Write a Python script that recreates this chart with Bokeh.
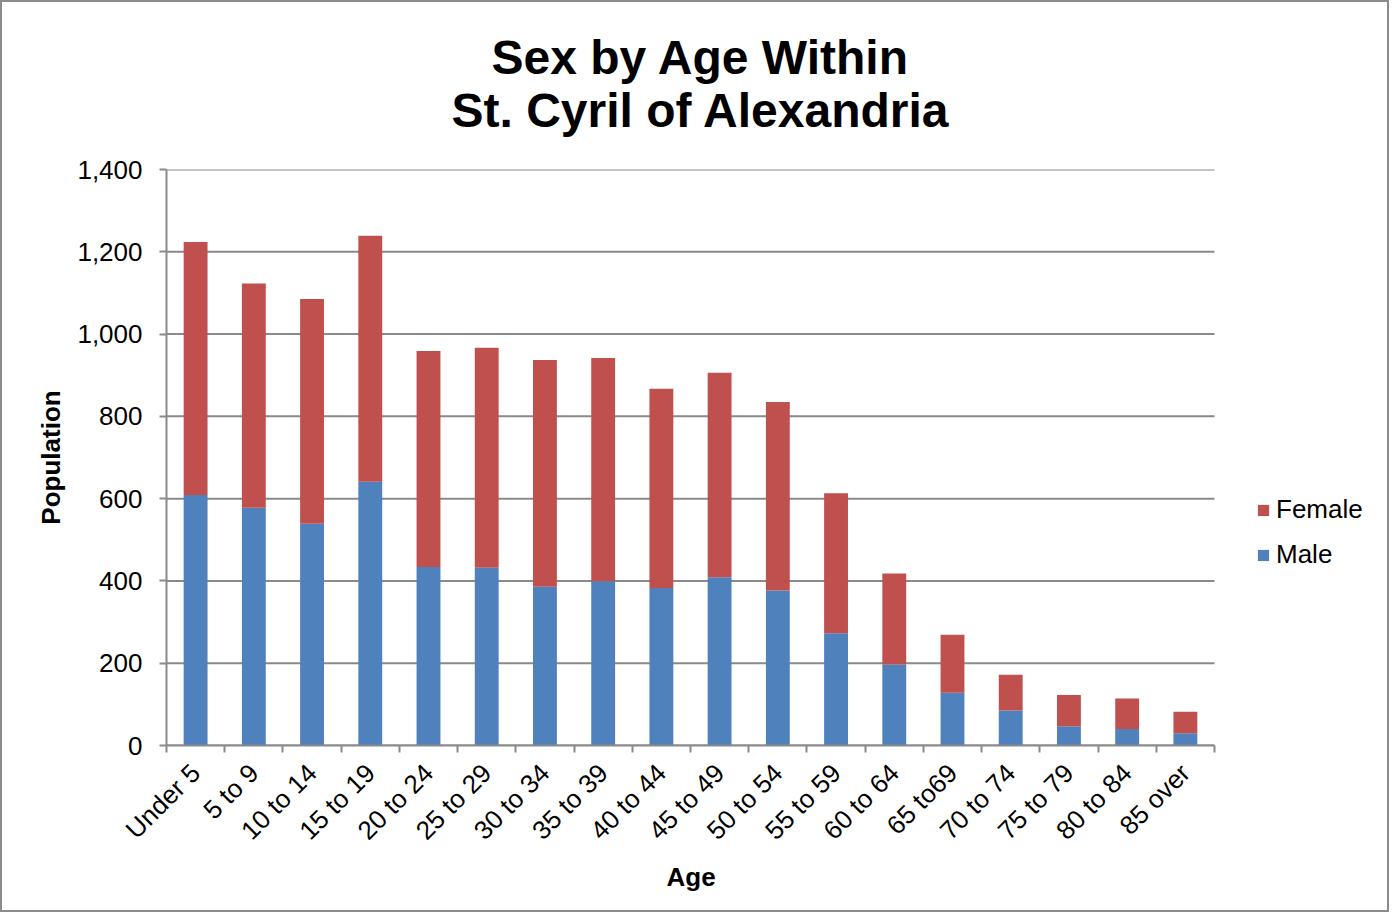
from bokeh.plotting import figure
from bokeh.models import (ColumnDataSource, FixedTicker, NumeralTickFormatter,
                          Legend, LegendItem, Range1d, Title)
from bokeh.embed import file_html
from bokeh.resources import INLINE
import math

categories = ["Under 5", "5 to 9", "10 to 14", "15 to 19", "20 to 24", "25 to 29",
              "30 to 34", "35 to 39", "40 to 44", "45 to 49", "50 to 54", "55 to 59",
              "60 to 64", "65 to69", "70 to 74", "75 to 79", "80 to 84", "85 over"]
male = [609, 578, 539, 641, 434, 432, 386, 399, 383, 409, 377, 273, 197, 128, 85, 47, 40, 30]
female = [615, 545, 546, 598, 525, 535, 551, 543, 484, 497, 458, 340, 221, 141, 87, 76, 74, 52]
y_ticks = [0, 200, 400, 600, 800, 1000, 1200, 1400]
title_lines = ["Sex by Age Within", "St. Cyril of Alexandria"]

MALE_C = "#4F81BD"
FEMALE_C = "#C0504D"
GRID_C = "#8a8a8a"
FONT = "Liberation Sans"

n = len(categories)
xs = [i + 0.5 for i in range(n)]
src = ColumnDataSource(dict(x=xs, male=male, female=female))
grid_src = ColumnDataSource(dict(x0=[0] * len(y_ticks), x1=[n] * len(y_ticks), y=y_ticks))

# layout: the frame runs past the last category so the legend can sit inside it
W, H = 1389, 912
ML, MR, MT, MB = 164, 4, 167, 169
frame_w = W - ML - MR
bars_w = 1048  # pixel width of the category area
x_end = n * frame_w / bars_w

p = figure(width=W, height=H, output_backend="svg", toolbar_location=None,
           x_range=Range1d(0, x_end), y_range=Range1d(0, 1400), title=None)
p.min_border_left = ML
p.min_border_right = MR
p.min_border_top = MT
p.min_border_bottom = MB
p.outline_line_color = None
p.background_fill_color = "white"
p.border_fill_color = "white"
p.styles = {"border": "2px solid #8c8c8c"}

# horizontal gridlines limited to the category area
p.segment(x0="x0", x1="x1", y0="y", y1="y", source=grid_src,
          line_color=GRID_C, line_width=2, level="underlay")

renderers = p.vbar_stack(["male", "female"], x="x", width=0.41, source=src,
                         color=[MALE_C, FEMALE_C], line_color=None)

# spacer between the frame and the title
p.add_layout(Title(text="\u00a0", text_font=FONT, text_font_size="1px",
                   standoff=30), "above")
# Two-line title; the shorter first line is nudged right so both lines look centred
title_text = "\u00a0\u00a0\u00a0" + title_lines[0] + "\n" + title_lines[1]
p.add_layout(Title(text=title_text, align="left", offset=285,
                   text_font=FONT, text_font_size="48px", text_font_style="bold",
                   text_color="black", text_line_height=1.0, standoff=0), "above")

# Y axis
ya = p.yaxis[0]
ya.ticker = FixedTicker(ticks=y_ticks)
ya.formatter = NumeralTickFormatter(format="0,0")
ya.major_label_text_font = FONT
ya.major_label_text_font_size = "26px"
ya.major_label_text_color = "black"
ya.axis_line_color = GRID_C
ya.axis_line_width = 2
ya.major_tick_line_color = GRID_C
ya.major_tick_line_width = 2
ya.major_tick_out = 7
ya.major_tick_in = 0
ya.minor_tick_line_color = None
ya.major_label_standoff = 17
ya.axis_label = "Population"
ya.axis_label_text_font = FONT
ya.axis_label_text_font_size = "26px"
ya.axis_label_text_font_style = "bold"
ya.axis_label_text_color = "black"
ya.axis_label_standoff = 8

# X axis
xa = p.xaxis[0]
xa.bounds = (0, n)
xa.ticker = FixedTicker(ticks=xs, minor_ticks=list(range(n + 1)))
xa.major_label_overrides = {x: c for x, c in zip(xs, categories)}
xa.major_label_orientation = math.pi / 4
xa.major_label_text_font = FONT
xa.major_label_text_font_size = "26px"
xa.major_label_text_color = "black"
xa.major_tick_line_color = None
xa.minor_tick_line_color = GRID_C
xa.minor_tick_line_width = 2
xa.minor_tick_out = 7
xa.minor_tick_in = 0
xa.axis_line_color = GRID_C
xa.axis_line_width = 2
xa.major_label_standoff = 16

# x-axis title, centred under the category area
p.add_layout(Title(text="Age", align="left", offset=500,
                   text_font=FONT, text_font_size="26px", text_font_style="bold",
                   text_color="black", standoff=0), "below")

p.xgrid.grid_line_color = None
p.ygrid.grid_line_color = None

legend = Legend(items=[LegendItem(label="Female", renderers=[renderers[1]]),
                       LegendItem(label="Male", renderers=[renderers[0]])],
                location=(1090, 175), orientation="vertical",
                label_text_font=FONT, label_text_font_size="26px",
                label_text_color="black", glyph_width=14, glyph_height=14,
                label_standoff=6, spacing=14, padding=0, margin=0,
                border_line_color=None, background_fill_alpha=0)
p.add_layout(legend, "center")

open("out.html", "w").write(file_html(p, INLINE))
